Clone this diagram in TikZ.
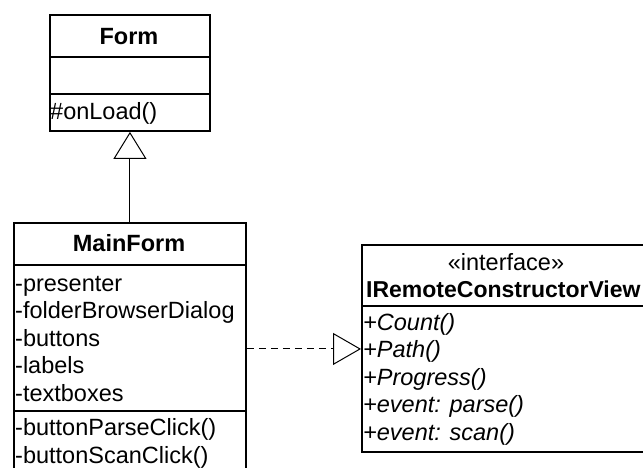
\documentclass[tikz,border=0pt]{standalone}
\usepackage{fontspec}
\setmainfont{Liberation Sans}
\usetikzlibrary{arrows.meta}
\begin{document}
\begin{tikzpicture}[x=1pt,y=-1pt,
  every node/.style={font=\fontsize{23.5}{27}\selectfont},
  umlbox/.style={draw, line width=1.9pt, inner sep=0pt, anchor=north west},
  sep/.style={line width=1.9pt},
  lbl/.style={anchor=base west, inner sep=0pt},
  ttl/.style={anchor=base, inner sep=0pt, font=\fontsize{23.5}{27}\selectfont\bfseries},
  stereo/.style={anchor=base, inner sep=0pt},
  oper/.style={anchor=base west, inner sep=0pt, font=\fontsize{23.5}{27}\selectfont\itshape},
  conn/.style={line width=1pt},
]
\useasboundingbox (0,0) rectangle (643,467);
\clip (0,0) rectangle (643,467);

% class Form
\node[umlbox, minimum width=160pt, minimum height=116pt] (form) at (49,14) {};
\draw[sep] (49,57) -- (209,57);
\draw[sep] (49,94) -- (209,94);
\node[ttl] (formname) at (129,44) {Form};
\node[lbl] (formop) at (50,119) {\#onLoad()};

% class MainForm
\node[umlbox, minimum width=232pt, minimum height=252pt] (main) at (13,222) {};
\draw[sep] (13,265) -- (245,265);
\draw[sep] (13,411) -- (245,411);
\node[ttl] (mainname) at (129,251) {MainForm};
\node[lbl] (a1) at (15,291) {-presenter};
\node[lbl] (a2) at (15,318.5) {-folderBrowserDialog};
\node[lbl] (a3) at (15,346) {-buttons};
\node[lbl] (a4) at (15,373.5) {-labels};
\node[lbl] (a5) at (15,401) {-textboxes};
\node[lbl] (m1) at (15,435.5) {-buttonParseClick()};
\node[lbl] (m2) at (15,463) {-buttonScanClick()};

% interface IRemoteConstructorView
\node[umlbox, minimum width=290pt, minimum height=207pt] (iface) at (361,244) {};
\draw[sep] (361,306) -- (651,306);
\node[stereo] (istereo) at (506,270) {«interface»};
\node[ttl, anchor=base west, font=\fontsize{23}{27}\selectfont\bfseries]
  (iname) at (366,297) {IRemoteConstructorView};
\node[oper] (o1) at (363,330) {+Count()};
\node[oper] (o2) at (363,357.5) {+Path()};
\node[oper] (o3) at (363,385) {+Progress()};
\node[oper] (o4) at (363,412.5) {+event: parse()};
\node[oper] (o5) at (363,440) {+event: scan()};

% generalization and realization
\draw[conn, -{Triangle[open, length=27pt, width=33pt]}] (main.north) -- (form.south);
\draw[conn, dash pattern=on 7pt off 5pt, -{Triangle[open, length=28pt, width=32pt]}]
  (main.east) -- (main.east -| iface.west);
\end{tikzpicture}
\end{document}
